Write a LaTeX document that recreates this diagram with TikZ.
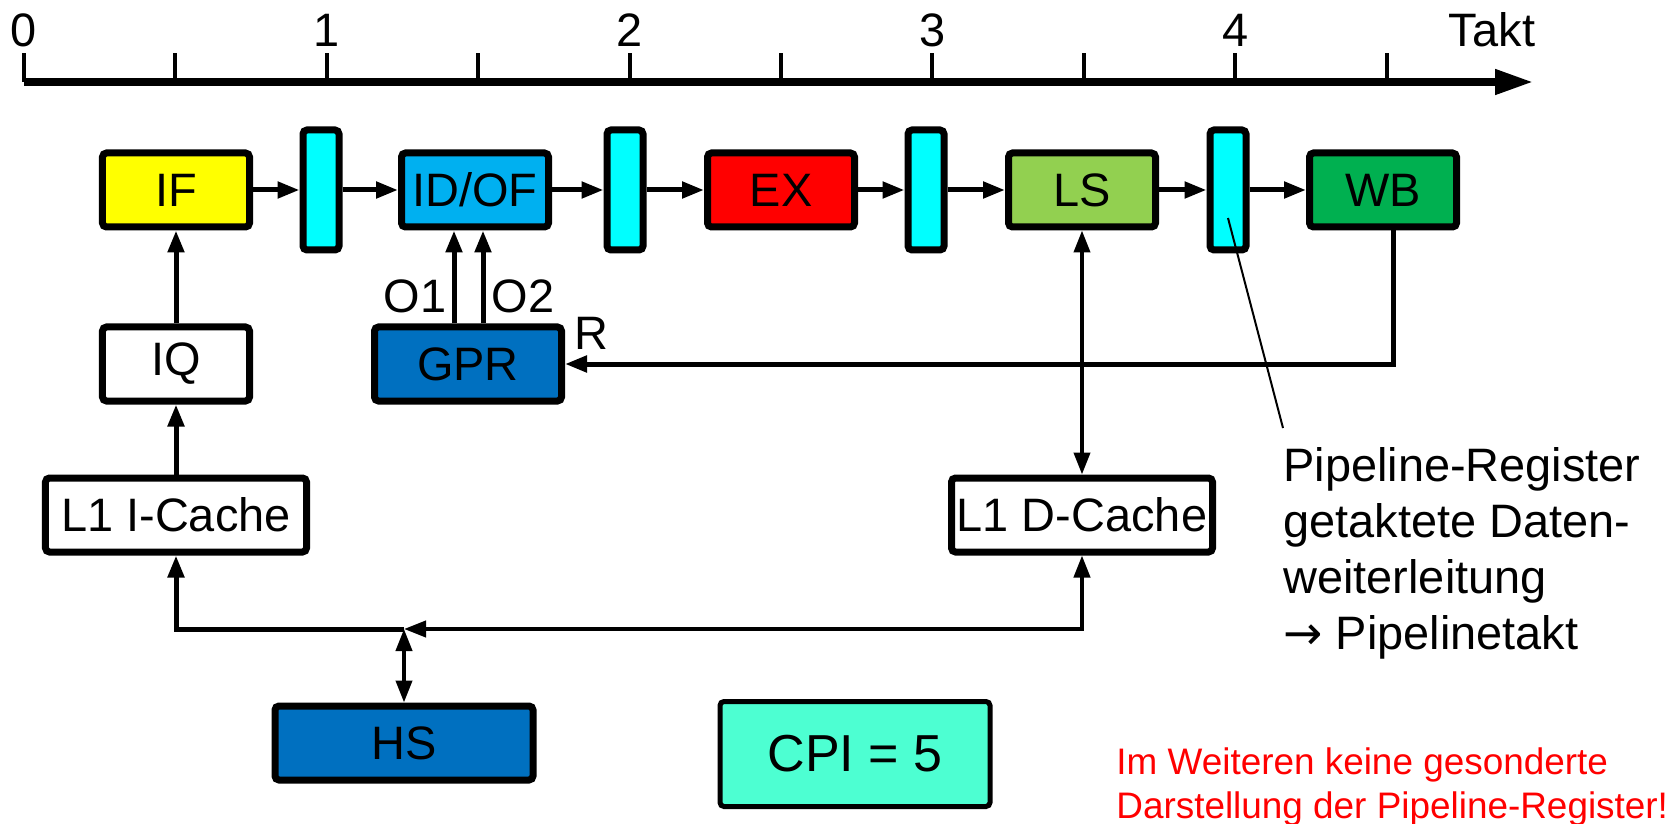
\documentclass[tikz,border=0pt]{standalone}
\usepackage{fontspec}
\setmainfont{Liberation Sans}
\newfontfamily\pfeilschrift{DejaVu Sans}
\usepackage{tikz}
\usetikzlibrary{arrows.meta}

\definecolor{gelb}{HTML}{FFFF00}
\definecolor{zyan}{HTML}{00FFFF}
\definecolor{hellblau}{HTML}{00B0F0}
\definecolor{rot}{HTML}{FF0000}
\definecolor{hellgruen}{HTML}{92D050}
\definecolor{gruen}{HTML}{00B050}
\definecolor{dunkelblau}{HTML}{0070C0}
\definecolor{tuerkis}{HTML}{4DFFD2}

\begin{document}
\begin{tikzpicture}[x=0.2mm, y=-0.2mm,
	schrift/.style={font=\fontsize{26.7}{31.9}\selectfont},
	stufe/.style={draw, line width=1.4mm, rounded corners=0.8mm, minimum width=29.4mm, minimum height=14.8mm, inner sep=0pt, schrift},
	reg/.style={draw, fill=zyan, line width=1.4mm, rounded corners=0.8mm, minimum width=7.2mm, minimum height=24mm, inner sep=0pt},
	beschr/.style={inner sep=0pt, schrift},
	pfeil/.style={line width=1mm, -{Triangle[length=4.4mm,width=3.2mm]}},
	dpfeil/.style={line width=0.8mm, {Triangle[length=4.4mm,width=3.2mm]}-{Triangle[length=4.4mm,width=3.2mm]}}
	]
	\useasboundingbox (0,0) rectangle (1673,824);

	\coordinate (t0) at (24,82);
	\coordinate (tende) at (1533,82);
	\draw[line width=1.5mm, -{Triangle[length=7.6mm,width=4.8mm]}] (t0) -- (tende);
	\foreach \i in {0,...,9}
		\draw[line width=0.8mm] ([xshift=\i*30.28mm]t0) -- ++(0,-29);
	\foreach \i in {0,...,4}
		\node[beschr] at ({24+302.8*\i},30) {\i};
	\node[beschr] (takt) at (1492,30) {Takt};

	\node[stufe, fill=gelb] (IF) at (176,190) {IF};
	\node[reg] (R1) at (321,190) {};
	\node[stufe, fill=hellblau] (IDOF) at (475,190) {ID/OF};
	\node[reg] (R2) at (625,190) {};
	\node[stufe, fill=rot] (EX) at (781,190) {EX};
	\node[reg] (R3) at (926,190) {};
	\node[stufe, fill=hellgruen] (LS) at (1082,190) {LS};
	\node[reg] (R4) at (1228,190) {};
	\node[stufe, fill=gruen] (WB) at (1383,190) {WB};

	\node[stufe, fill=white] (IQ) at (176,364) {IQ};
	\node[stufe, fill=dunkelblau, minimum width=37.4mm] (GPR) at (468,364) {GPR};
	\node[stufe, fill=white, minimum width=52.2mm] (L1I) at (176,515) {L1 I-Cache};
	\node[stufe, fill=white, minimum width=52.2mm] (L1D) at (1082,515) {L1 D-Cache};
	\node[stufe, fill=dunkelblau, minimum width=51.6mm] (HS) at (404,743) {HS};
	\node[stufe, fill=tuerkis, line width=1mm, minimum width=54mm, minimum height=21mm, font=\fontsize{29.6}{34}\selectfont] (CPI) at (855,754) {CPI = 5};

	\node[beschr] (o1) at (415,296) {O1};
	\node[beschr] (o2) at (523,296) {O2};
	\node[beschr] (r) at (591,333) {R};

	\draw[pfeil] (IF) -- (R1);
	\draw[pfeil] (R1) -- (IDOF);
	\draw[pfeil] (IDOF) -- (R2);
	\draw[pfeil] (R2) -- (EX);
	\draw[pfeil] (EX) -- (R3);
	\draw[pfeil] (R3) -- (LS);
	\draw[pfeil] (LS) -- (R4);
	\draw[pfeil] (R4) -- (WB);

	\draw[pfeil] (L1I) -- (IQ);
	\draw[pfeil] (IQ) -- (IF);
	\draw[pfeil] ([xshift=-2.8mm]GPR.north) -- ([xshift=-2.8mm]GPR.north |- IDOF.south);
	\draw[pfeil] ([xshift=3mm]GPR.north) -- ([xshift=3mm]GPR.north |- IDOF.south);
	\draw[pfeil] ([xshift=2mm]WB.south) |- (GPR.east);
	\draw[dpfeil] (LS) -- (L1D);

	\coordinate (K) at (404,629);
	\draw[pfeil] (K) -| (L1I.south);
	\draw[dpfeil] (K) -| (L1D.south);
	\draw[dpfeil] (K) -- (HS.north);

	\node[beschr, anchor=north west, align=left] (info) at (1283,447) {Pipeline-Register\\getaktete Daten-\\weiterleitung\\{\pfeilschrift →} Pipelinetakt};
	\draw[line width=0.4mm] ([yshift=-5.6mm]R4.center) -- ([yshift=3.8mm]info.north west);

	\node[anchor=north west, inner sep=0pt, align=left, text=rot, font=\fontsize{21}{25}\selectfont] (hinweis) at (1116,747) {Im Weiteren keine gesonderte\\Darstellung der Pipeline-Register!};
\end{tikzpicture}
\end{document}
